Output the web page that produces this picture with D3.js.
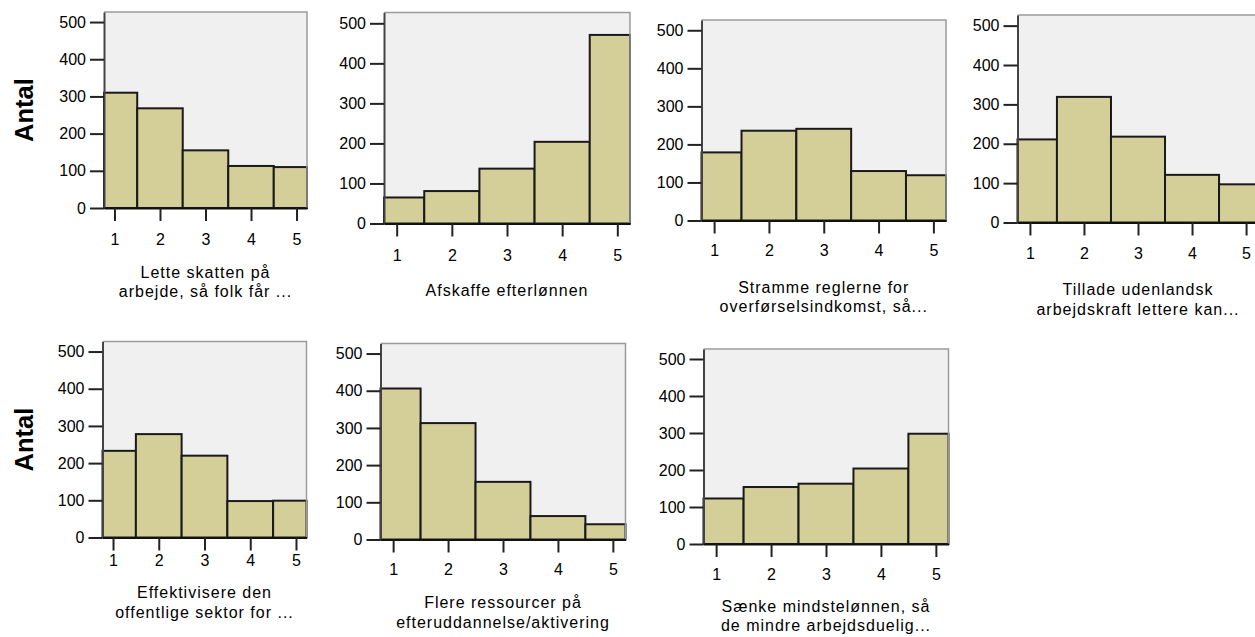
<!DOCTYPE html>
<html>
<head>
<meta charset="utf-8">
<script src="https://cdn.jsdelivr.net/npm/d3@7"></script>
<style>
  body { margin: 0; background: #fff; }
  svg { display: block; }
  .tick text { font-family: "Liberation Sans", Arial, sans-serif; font-size: 16px; fill: #000; }
  .title { font-family: "Liberation Sans", Arial, sans-serif; font-size: 16px; letter-spacing: 1px; fill: #000; }
  .ylab { font-family: "Liberation Sans", Arial, sans-serif; font-size: 25.5px; font-weight: bold; fill: #000; }
</style>
</head>
<body>
<svg id="chart" width="1255" height="637"></svg>
<script>
// answer categories 1..5
const categories = [1, 2, 3, 4, 5];
const yTicks = [0, 100, 200, 300, 400, 500];

// counts per question
const letteSkatten = [310, 268, 155, 113, 110];
const afskaffeEfterlonnen = [65, 81, 137, 204, 471];
const strammeReglerne = [179, 236, 241, 130, 119];
const tilladeUdenlandsk = [211, 319, 218, 121, 97];
const effektivisere = [233, 278, 220, 98, 99];
const flereRessourcer = [406, 313, 155, 63, 41];
const saenkeMindstelonnen = [123, 154, 163, 204, 298];

const titles = [
  ["Lette skatten på", "arbejde, så folk får ..."],
  ["Afskaffe efterlønnen"],
  ["Stramme reglerne for", "overførselsindkomst, så..."],
  ["Tillade udenlandsk", "arbejdskraft lettere kan..."],
  ["Effektivisere den", "offentlige sektor for ..."],
  ["Flere ressourcer på", "efteruddannelse/aktivering"],
  ["Sænke mindstelønnen, så", "de mindre arbejdsduelig..."]
];
const series = [letteSkatten, afskaffeEfterlonnen, strammeReglerne, tilladeUdenlandsk,
  effektivisere, flereRessourcer, saenkeMindstelonnen];

// panel boxes: left, right, top, bottom, x label baseline offset, first title baseline
const layout = [
  { x0: 104, x1: 307, y0: 12, y1: 208, tickBase: 37, titleY: 277.5 },
  { x0: 384, x1: 630, y0: 12.5, y1: 223.5, tickBase: 38, titleY: 296 },
  { x0: 701.5, x1: 946, y0: 20, y1: 220.5, tickBase: 36, titleY: 292.5 },
  { x0: 1017.5, x1: 1258.5, y0: 15, y1: 222.5, tickBase: 36.5, titleY: 295 },
  { x0: 102.5, x1: 306.5, y0: 341.5, y1: 537.5, tickBase: 28.5, titleY: 598 },
  { x0: 380.5, x1: 625.5, y0: 343.5, y1: 539.5, tickBase: 35.5, titleY: 608 },
  { x0: 703.5, x1: 948.5, y0: 349, y1: 544, tickBase: 36, titleY: 611.5 }
];

const xDomain = [0.77, 5.23];
const yMax = 527;
const svg = d3.select("#chart");

series.forEach((values, i) => {
  const L = layout[i];
  const g = svg.append("g");

  const x = d3.scaleLinear().domain(xDomain).range([L.x0, L.x1]);
  const y = d3.scaleLinear().domain([0, yMax]).range([L.y1, L.y0]);

  g.append("rect")
    .attr("x", L.x0).attr("y", L.y0)
    .attr("width", L.x1 - L.x0).attr("height", L.y1 - L.y0)
    .attr("fill", "#f0f0f0");

  // histogram bars, clipped to the plot area
  g.selectAll("rect.bar")
    .data(categories.map((c, j) => ({ c: c, v: values[j] })))
    .enter().append("rect")
    .attr("class", "bar")
    .attr("x", d => x(Math.max(d.c - 0.5, xDomain[0])))
    .attr("width", d => x(Math.min(d.c + 0.5, xDomain[1])) - x(Math.max(d.c - 0.5, xDomain[0])))
    .attr("y", d => y(d.v))
    .attr("height", d => y(0) - y(d.v))
    .attr("fill", "#d4cf98")
    .attr("stroke", "#1a1a1a")
    .attr("stroke-width", 2);

  // frame top + right
  g.append("path")
    .attr("d", `M${L.x0},${L.y0}H${L.x1}V${L.y1}`)
    .attr("fill", "none")
    .attr("stroke", "#9a9a9a")
    .attr("stroke-width", 1.5);

  const yAxis = g.append("g")
    .attr("transform", `translate(${L.x0},0)`)
    .call(d3.axisLeft(y).tickValues(yTicks).tickSize(14).tickSizeOuter(0).tickPadding(4));
  yAxis.select(".domain").attr("stroke", "#444").attr("stroke-width", 2);
  yAxis.selectAll(".tick line").attr("stroke", "#222").attr("stroke-width", 2);

  const xAxis = g.append("g")
    .attr("transform", `translate(0,${L.y1})`)
    .call(d3.axisBottom(x).tickValues(categories).tickFormat(d3.format("d"))
      .tickSize(13).tickSizeOuter(0).tickPadding(L.tickBase - 13 - 11.4));
  xAxis.select(".domain").attr("stroke", "#111").attr("stroke-width", 2);
  xAxis.selectAll(".tick line").attr("stroke", "#222").attr("stroke-width", 2);
  svg.selectAll(".domain").attr("fill", "none");

  const cx = (L.x0 + L.x1) / 2;
  titles[i].forEach((t, k) => {
    g.append("text")
      .attr("class", "title")
      .attr("x", cx)
      .attr("y", L.titleY + k * 19.5)
      .attr("text-anchor", "middle")
      .text(t);
  });
});

// row labels
[0, 4].forEach(i => {
  const L = layout[i];
  svg.append("text")
    .attr("class", "ylab")
    .attr("transform", `translate(33,${(L.y0 + L.y1) / 2}) rotate(-90)`)
    .attr("text-anchor", "middle")
    .text("Antal");
});
</script>
</body>
</html>
